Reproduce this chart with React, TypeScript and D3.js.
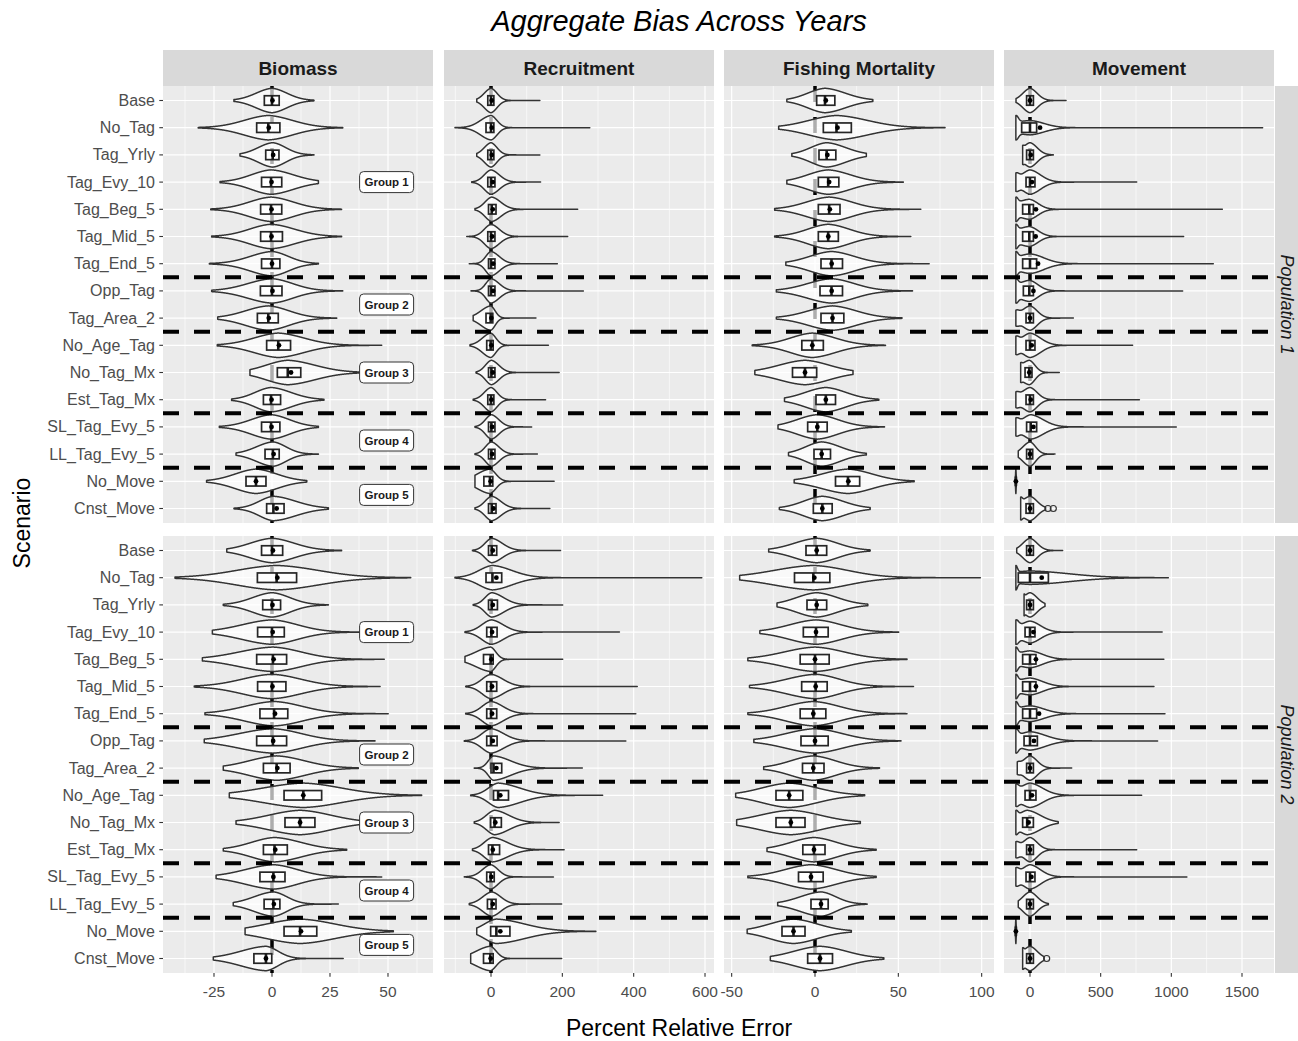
import React from "react";
import * as d3 from "d3";

// ---------- data ----------
const scenarios = [
  "Base", "No_Tag", "Tag_Yrly", "Tag_Evy_10", "Tag_Beg_5", "Tag_Mid_5", "Tag_End_5",
  "Opp_Tag", "Tag_Area_2", "No_Age_Tag", "No_Tag_Mx", "Est_Tag_Mx",
  "SL_Tag_Evy_5", "LL_Tag_Evy_5", "No_Move", "Cnst_Move",
];
const variables = ["Biomass", "Recruitment", "Fishing Mortality", "Movement"];
const populations = ["Population 1", "Population 2"];
const groupLabels = ["Group 1", "Group 2", "Group 3", "Group 4", "Group 5"];
const groupRows = [3, 7.5, 10, 12.5, 14.5];
const groupBreaks = [6.5, 8.5, 11.5, 13.5];
const groupLabelX = 49.4;

const xDomains = [
  [-46.98, 69.4],
  [-131.8, 625.2],
  [-54.6, 107.4],
  [-183.96, 1726.4],
];
const xTicks = [
  [-25, 0, 25, 50],
  [0, 200, 400, 600],
  [-50, 0, 50, 100],
  [0, 500, 1000, 1500],
];

// [min, q1, median, q3, max, mean, edge]
const biomassP1 = [
  [-16.4, -3.3, 0, 3.1, 18.1, 0.2],
  [-31.8, -6.6, -1.6, 3.4, 30.5, -1.4],
  [-13.8, -2.7, 0.3, 3.0, 18.1, 0.5],
  [-22.4, -4.5, -0.4, 4.2, 20, -0.2],
  [-26.4, -4.9, -0.4, 4.2, 30, -0.2],
  [-26, -4.9, -0.4, 4.5, 30, -0.2],
  [-27, -4.5, 0, 3.4, 20, 0],
  [-26, -5, 0, 4.3, 30.5, 0.2],
  [-23.4, -6.3, -1.6, 2.7, 27.9, -1.4],
  [-23.6, -2.3, 2.7, 8.0, 47.3, 3.0],
  [-9.5, 2.3, 6.8, 12.4, 40, 8.2],
  [-17.4, -3.7, -0.4, 3.7, 22.4, -0.2],
  [-22.7, -4.5, -0.4, 3.4, 20, -0.2],
  [-15.5, -3, 0.4, 3.1, 20, 0.7],
  [-28.2, -11.2, -6.9, -2.6, 15, -6.9],
  [-16.4, -2.3, 0.6, 5.2, 24.3, 2.0],
];
const biomassP2 = [
  [-19.5, -4.5, 0, 4.6, 30, 0.4],
  [-41.8, -6.3, 2.0, 10.6, 59.8, 2.3],
  [-21, -4, 0, 3.7, 24.3, 0.2],
  [-25.7, -6.2, 0, 5.3, 40, 0.3],
  [-30, -6.6, 0.4, 6.3, 48.4, 0.7],
  [-33.5, -6.2, 0, 6, 46.6, 0.2],
  [-28.9, -5.2, 0.9, 6.8, 50.1, 1.3],
  [-29.2, -6.6, 0.4, 6.3, 44.4, 0.5],
  [-21, -3.7, 2, 7.8, 37.2, 2.3],
  [-18.4, 5.2, 13.5, 21.4, 64.5, 13.5],
  [-15.5, 5.6, 12.1, 18.5, 40, 12.1],
  [-21, -3.7, 1.1, 6.6, 32.2, 1.4],
  [-24.1, -5.2, 0.6, 5.6, 47.3, 0.6],
  [-16.7, -3.4, 0.6, 3.4, 28.6, 0.8],
  [-11.6, 5.2, 12.1, 19.3, 52.3, 12.5],
  [-25.3, -7.8, -2.6, -0.1, 30.7, -2.6],
];
const recruitP1 = [
  [-40, -9, 0, 8, 137, 2],
  [-101, -14, 0, 8, 277, 2],
  [-40, -9, 0, 8, 137, 2],
  [-54, -9, 0, 11, 139, 5],
  [-45, -7, 2, 14, 243, 5],
  [-68, -9, 0, 11, 215, 3],
  [-61, -7, 0, 11, 186, 6],
  [-56, -7, 0, 11, 259, 6],
  [-50, -14, -1, 5, 126, 1],
  [-59, -12, -1, 6, 161, 1],
  [-42, -7, 1, 11, 191, 5],
  [-50, -9, 0, 8, 153, 1],
  [-45, -7, 1, 11, 114, 3],
  [-45, -7, 1, 11, 130, 3],
  [-45, -20, -3, 5, 177, -1],
  [-45, -7, 2, 14, 165, 7],
];
const recruitP2 = [
  [-52, -7, 2, 16, 195, 5],
  [-101, -14, 4, 30, 591, 15],
  [-50, -7, 2, 18, 201, 5],
  [-73, -12, 1, 17, 360, 3],
  [-73, -21, -1, 6, 201, 1],
  [-71, -12, 0, 16, 410, 3],
  [-71, -12, 0, 16, 406, 3],
  [-75, -12, 0, 17, 378, 5],
  [-47, 0, 7, 30, 256, 15],
  [-57, 7, 20, 49, 313, 26],
  [-47, -1, 10, 29, 191, 12],
  [-52, -7, 4, 24, 205, 5],
  [-75, -12, -1, 9, 175, 1],
  [-61, -10, 2, 14, 198, 5],
  [-40, -1, 15, 53, 294, 26],
  [-57, -21, -2, 6, 198, -1],
];
const fishingP1 = [
  [-16.9, 1, 6, 11.9, 34.7, 6.5],
  [-21.8, 5, 12.9, 21.8, 78, 13.5],
  [-13.9, 2.4, 7, 12.5, 30.8, 7.4],
  [-16.9, 2, 7.9, 14.3, 53, 8.5],
  [-24.2, 2, 8.5, 15, 63.5, 8.9],
  [-24.2, 2, 7.9, 14, 57.5, 8],
  [-17.5, 3.6, 9.9, 16.5, 68.5, 10],
  [-23.2, 3, 9.9, 16.5, 58.5, 10],
  [-23.2, 3.6, 10.5, 17.3, 52.2, 10.5],
  [-37.7, -7.9, -1.6, 5, 42.3, -1.6],
  [-36.1, -13.5, -6, 1, 22.8, -6],
  [-18.3, 0.6, 6.5, 12.3, 38.3, 6.5],
  [-22.2, -4.4, 1.4, 7.3, 41.7, 1.4],
  [-15.9, -0.6, 4, 9.3, 30.8, 4],
  [-12.5, 12.3, 19.8, 26.8, 59.5, 20],
  [-21.4, -1, 4.4, 10.3, 33.1, 4.4],
];
const fishingP2 = [
  [-27.8, -5.4, 1, 7, 33.1, 1],
  [-45.2, -12.3, -1, 8.9, 99.2, -0.4],
  [-22.8, -4.8, 1, 7, 31.7, 1],
  [-33.1, -7, 0.6, 7.9, 50.2, 0.6],
  [-40.3, -8.9, 0, 8.5, 55.2, 0],
  [-39.3, -8, 0.4, 7.3, 59.1, 0.4],
  [-40.3, -8.9, -1, 6.5, 55.2, -1],
  [-36.7, -8.4, 0, 7.9, 51.6, 0],
  [-30.8, -7.5, -1, 5.4, 38.7, -1],
  [-47.6, -23.4, -15.5, -7.3, 29.8, -15.5],
  [-47, -23.4, -14.5, -6, 27.2, -14.5],
  [-28.8, -7.3, -0.6, 6, 36.7, -0.6],
  [-40.3, -9.9, -2.4, 4.9, 36.7, -2.4],
  [-22.4, -2.4, 3.6, 7.9, 31.3, 3.6],
  [-40.7, -19.8, -12.9, -6, 21.8, -12.9],
  [-26.8, -4.4, 3, 10.5, 41.3, 3],
];
const movementP1 = [
  [-99, -24, 0, 24, 255, 0, 0],
  [-100, -59, 0, 47, 1646, 71, 1.0],
  [-52, -24, 0, 24, 165, 5, 0.2],
  [-100, -28, 0, 35, 755, 14, 0.5],
  [-100, -52, -5, 24, 1361, 42, 0.6],
  [-100, -52, -5, 24, 1087, 40, 0.6],
  [-100, -52, 0, 47, 1297, 57, 0.6],
  [-100, -47, -5, 24, 1080, 24, 0.6],
  [-100, -28, 0, 24, 307, 0, 0.4],
  [-100, -28, 0, 35, 726, 12, 0.5],
  [-66, -35, -5, 14, 207, -5, 0.2],
  [-100, -28, 0, 24, 774, 5, 0.4],
  [-100, -24, 5, 47, 1035, 24, 0.5],
  [-83, -24, 0, 19, 177, 0, 0],
  [-104, -101, -100, -99, -96, -100, 0],
  [-66, -28, 0, 24, 110, 0, 0.4],
];
const movementP2 = [
  [-94, -24, 0, 24, 231, 0, 0],
  [-100, -83, 0, 130, 979, 83, 1.0],
  [-42, -24, 0, 24, 106, 0, 0.2],
  [-100, -35, 0, 35, 935, 24, 0.7],
  [-100, -52, 0, 42, 947, 42, 0.8],
  [-100, -52, 0, 42, 877, 42, 0.8],
  [-100, -52, 0, 47, 955, 64, 0.9],
  [-100, -42, 0, 52, 903, 28, 0.8],
  [-90, -24, 0, 24, 295, 0, 0.3],
  [-100, -35, 0, 42, 790, 14, 0.5],
  [-100, -52, -20, 24, 200, -10, 0.5],
  [-100, -24, 0, 24, 755, 0, 0.5],
  [-100, -28, 0, 35, 1110, 10, 0.5],
  [-83, -24, 0, 24, 130, 0, 0],
  [-104, -101, -100, -99, -96, -100, 0],
  [-52, -24, 0, 24, 100, 0, 0.3],
];
const movementOutliersP1 = [[15, 127], [15, 165]];
const movementOutliersP2 = [[15, 118]];

const statsGrid = [
  [biomassP1, recruitP1, fishingP1, movementP1],
  [biomassP2, recruitP2, fishingP2, movementP2],
];
const outlierGrid = [
  [[], [], [], movementOutliersP1],
  [[], [], [], movementOutliersP2],
];

// ---------- layout ----------
const W = 1298;
const H = 1041;
const panelX = [163, 444, 724, 1004];
const panelW = 270;
const panelY = [86, 536];
const panelH = 437;
const stripH = 36;
const yPad = 14.5;
const FONT = "'Liberation Sans', Arial, Helvetica, sans-serif";

// smooth violin outline from the read quantiles (kernel-smoothed look)
function densityProfile(s: number[]) {
  const [mn, q1, md, q3, mx] = s;
  const edge = s[6] || 0;
  const span = Math.max(mx - mn, 1e-6);
  const widen = 1.45;
  const sL = Math.max(((md - q1) / 0.6745) * widen, span * 0.01);
  const sR = Math.max(((q3 - md) / 0.6745) * widen, span * 0.01);
  const ew = Math.max((q1 - mn) * 0.3, span * 0.01);
  const N = 600;
  const pts: { v: number; d: number }[] = [];
  for (let i = 0; i <= N; i++) {
    const v = mn + (span * i) / N;
    const dd = v - md;
    const sg = dd < 0 ? sL : sR;
    const g = Math.exp(-0.5 * (dd / sg) * (dd / sg));
    const l = Math.exp(-Math.abs(dd) / sg);
    let dens = 0.88 * g + 0.12 * l;
    if (edge > 0) dens += edge * Math.exp(-0.5 * ((v - mn) / ew) ** 2);
    pts.push({ v, d: dens });
  }
  const m = d3.max(pts, (p) => p.d) || 1;
  return pts.map((p) => ({ v: p.v, d: p.d / m }));
}

function Panel({ r, c }: { r: number; c: number }) {
  const x0 = panelX[c];
  const y0 = panelY[r];
  const xs = d3.scaleLinear().domain(xDomains[c]).range([x0, x0 + panelW]);
  const ys = d3.scalePoint().domain(scenarios).range([y0 + yPad, y0 + panelH - yPad]);
  const step = ys.step();
  const yAt = (idx: number) => (ys(scenarios[0]) as number) + step * idx;
  const halfMax = step * 0.45;
  const majors = xTicks[c];
  const mStep = majors[1] - majors[0];
  const minors: number[] = [];
  for (let m = majors[0] - mStep * 3 + mStep / 2; m < xDomains[c][1]; m += mStep) {
    if (m > xDomains[c][0]) minors.push(m);
  }
  const stats = statsGrid[r][c];
  const outl = outlierGrid[r][c];
  const boxH = 9.5;
  return (
    <g>
      <rect x={x0} y={y0} width={panelW} height={panelH} fill="#ebebeb" />
      {minors.map((m) => (
        <line key={"mi" + m} x1={xs(m)} x2={xs(m)} y1={y0} y2={y0 + panelH} stroke="#fff" strokeWidth={0.6} />
      ))}
      {majors.map((m) => (
        <line key={"ma" + m} x1={xs(m)} x2={xs(m)} y1={y0} y2={y0 + panelH} stroke="#fff" strokeWidth={1.2} />
      ))}
      {scenarios.map((s) => (
        <line key={"hy" + s} x1={x0} x2={x0 + panelW} y1={ys(s)} y2={ys(s)} stroke="#fff" strokeWidth={1.2} />
      ))}
      <line x1={xs(0)} x2={xs(0)} y1={y0} y2={y0 + panelH} stroke="#000" strokeWidth={3.5} strokeDasharray="16 15" />
      {stats.map((s, i) => {
        const yc = ys(scenarios[i]) as number;
        const prof = densityProfile(s);
        const area = d3
          .area<{ v: number; d: number }>()
          .x((p) => xs(p.v))
          .y0((p) => yc - p.d * halfMax)
          .y1((p) => yc + p.d * halfMax);
        return (
          <path key={"v" + i} d={area(prof) || ""} fill="#fff" fillOpacity={0.68} stroke="#333" strokeWidth={1.5} strokeLinejoin="round" />
        );
      })}
      {stats.map((s, i) => {
        const yc = ys(scenarios[i]) as number;
        return (
          <g key={"b" + i}>
            <rect x={xs(s[1])} y={yc - boxH / 2} width={Math.max(xs(s[3]) - xs(s[1]), 0.3)} height={boxH} fill="#fff" stroke="#262626" strokeWidth={1.7} />
            <line x1={xs(s[2])} x2={xs(s[2])} y1={yc - boxH / 2} y2={yc + boxH / 2} stroke="#1a1a1a" strokeWidth={2.6} />
            <circle cx={xs(s[5])} cy={yc} r={2.4} fill="#000" />
          </g>
        );
      })}
      {outl.map((o, k) => (
        <circle key={"o" + k} cx={xs(o[1])} cy={ys(scenarios[o[0]])} r={3} fill="none" stroke="#333" strokeWidth={1.2} />
      ))}
      {groupBreaks.map((b) => (
        <line key={"gb" + b} x1={x0} x2={x0 + panelW} y1={yAt(b)} y2={yAt(b)} stroke="#000" strokeWidth={4} strokeDasharray="16 15" />
      ))}
      {c === 0 &&
        groupLabels.map((g, k) => {
          const cx = xs(groupLabelX);
          const cy = yAt(groupRows[k]);
          return (
            <g key={"gl" + g}>
              <rect x={cx - 27} y={cy - 10.5} width={54} height={21} rx={4} fill="#fff" stroke="#333" strokeWidth={1} />
              <text x={cx} y={cy + 4} textAnchor="middle" fontFamily={FONT} fontWeight="bold" fontSize={11.5} fill="#1a1a1a">
                {g}
              </text>
            </g>
          );
        })}
      {c === 0 &&
        scenarios.map((s) => (
          <g key={"yl" + s}>
            <line x1={x0 - 3.7} x2={x0} y1={ys(s)} y2={ys(s)} stroke="#333" strokeWidth={1.1} />
            <text x={x0 - 8} y={(ys(s) as number) + 5.5} textAnchor="end" fontFamily={FONT} fontSize={16} fill="#4d4d4d">
              {s}
            </text>
          </g>
        ))}
      {r === 1 &&
        majors.map((m) => (
          <g key={"xl" + m}>
            <line x1={xs(m)} x2={xs(m)} y1={y0 + panelH} y2={y0 + panelH + 3.7} stroke="#333" strokeWidth={1.1} />
            <text x={xs(m)} y={y0 + panelH + 24} textAnchor="middle" fontFamily={FONT} fontSize={15.5} fill="#4d4d4d">
              {m}
            </text>
          </g>
        ))}
    </g>
  );
}

export default function App() {
  return (
    <div style={{ position: "absolute", left: 0, top: 0 }}>
      <svg width={W} height={H} viewBox={`0 0 ${W} ${H}`} style={{ display: "block", background: "#fff" }}>
        <rect x={0} y={0} width={W} height={H} fill="#fff" />
        <text x={679} y={31} textAnchor="middle" fontFamily={FONT} fontStyle="italic" fontSize={29} fill="#000">
          Aggregate Bias Across Years
        </text>
        {variables.map((v, c) => (
          <g key={"st" + v}>
            <rect x={panelX[c]} y={panelY[0] - stripH} width={panelW} height={stripH} fill="#d9d9d9" />
            <text x={panelX[c] + panelW / 2} y={panelY[0] - stripH / 2 + 6.5} textAnchor="middle" fontFamily={FONT} fontWeight="bold" fontSize={19} fill="#1a1a1a">
              {v}
            </text>
          </g>
        ))}
        {populations.map((p, r) => (
          <g key={"sp" + p}>
            <rect x={panelX[3] + panelW + 1} y={panelY[r]} width={30} height={panelH} fill="#d9d9d9" />
            <text
              transform={`translate(${panelX[3] + panelW + 7},${panelY[r] + panelH / 2}) rotate(90)`}
              textAnchor="middle"
              fontFamily={FONT}
              fontStyle="italic"
              fontSize={18}
              fill="#1a1a1a"
            >
              {p}
            </text>
          </g>
        ))}
        {populations.map((p, r) =>
          variables.map((v, c) => <Panel key={p + v} r={r} c={c} />)
        )}
        <text x={679} y={1036} textAnchor="middle" fontFamily={FONT} fontSize={23} fill="#000">
          Percent Relative Error
        </text>
        <text transform={`translate(30,523) rotate(-90)`} textAnchor="middle" fontFamily={FONT} fontSize={23} fill="#000">
          Scenario
        </text>
      </svg>
    </div>
  );
}
